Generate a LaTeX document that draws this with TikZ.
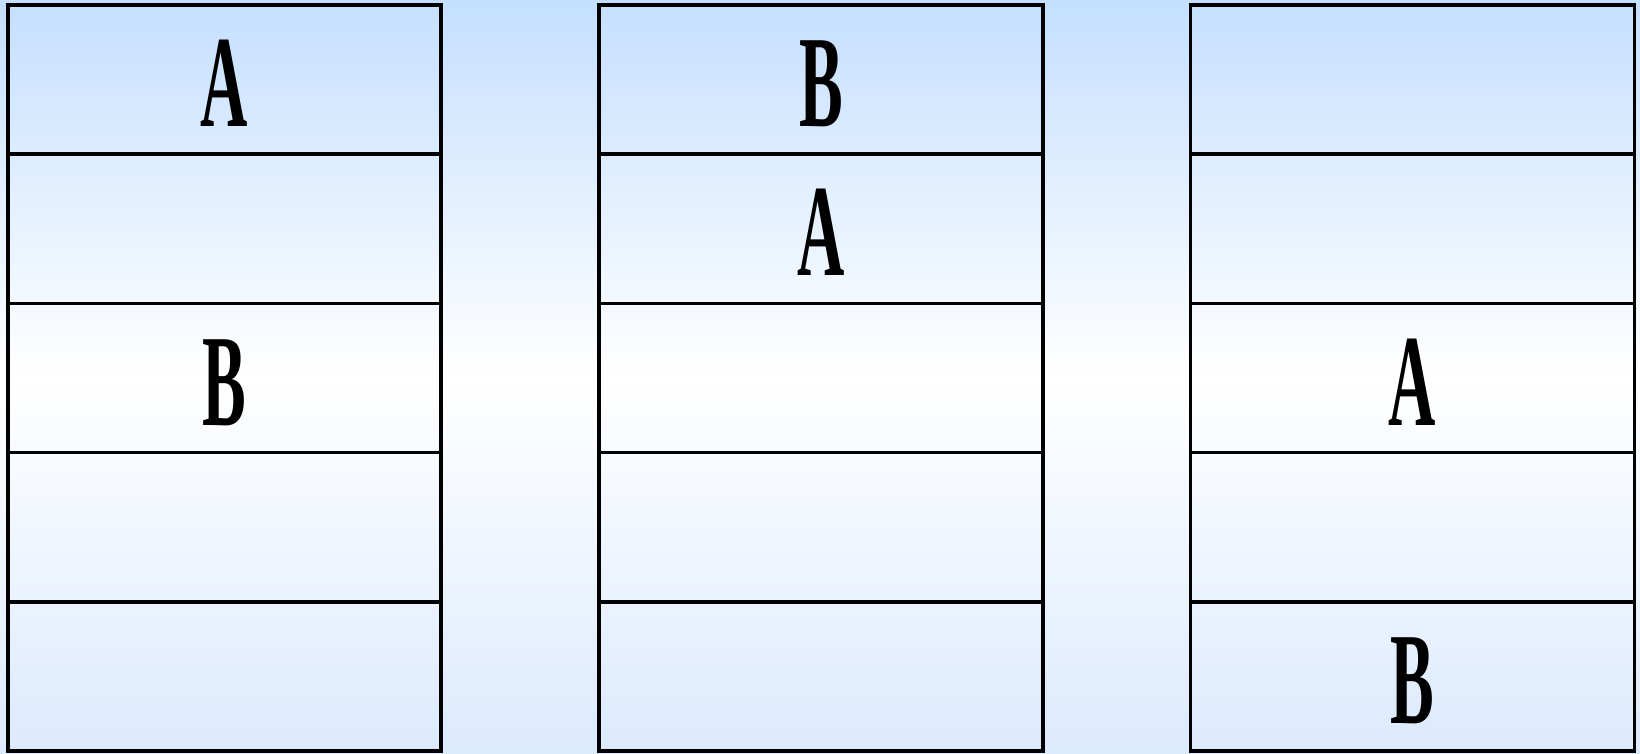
\documentclass[tikz,border=0pt]{standalone}
\usepackage{fontspec}
\newfontfamily\condfont[FakeStretch=0.5]{Liberation Serif}
\begin{document}
\begin{tikzpicture}[x=1pt,y=-1pt,
  cell/.style={draw=black, line width=3.6pt, rectangle, inner sep=0pt,
    minimum height=149.2pt, text height=94pt, text depth=0pt,
    font=\condfont\bfseries\fontsize{131}{131}\selectfont},
  cellA/.style={cell, minimum width=433pt},
  cellB/.style={cell, minimum width=444pt}]
\definecolor{bgtop}{RGB}{196,223,255}
\definecolor{bgbot}{RGB}{220,234,253}
\useasboundingbox (0,0) rectangle (1640,753);
\shade[top color=bgtop, bottom color=bgbot, middle color=white] (0,0) rectangle (1640,753);
% column 1
\node[cellA] (c1r1) at (224.5,79.6) {A};
\node[cellA] (c1r2) at (224.5,228.8) {};
\node[cellA] (c1r3) at (224.5,378) {B};
\node[cellA] (c1r4) at (224.5,527.2) {};
\node[cellA] (c1r5) at (224.5,676.4) {};
% column 2
\node[cellB] (c2r1) at (821,79.6) {B};
\node[cellB] (c2r2) at (821,228.8) {A};
\node[cellB] (c2r3) at (821,378) {};
\node[cellB] (c2r4) at (821,527.2) {};
\node[cellB] (c2r5) at (821,676.4) {};
% column 3
\node[cellB] (c3r1) at (1412.5,79.6) {};
\node[cellB] (c3r2) at (1412.5,228.8) {};
\node[cellB] (c3r3) at (1412.5,378) {A};
\node[cellB] (c3r4) at (1412.5,527.2) {};
\node[cellB] (c3r5) at (1412.5,676.4) {B};
\end{tikzpicture}
\end{document}
